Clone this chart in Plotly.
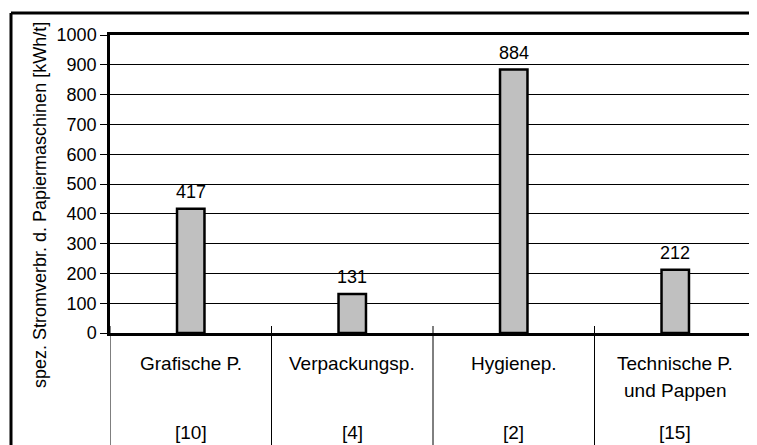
import plotly.graph_objects as go

# data
categories = ["Grafische P.", "Verpackungsp.", "Hygienep.", "Technische P.<br>und Pappen"]
values = [417, 131, 884, 212]
sources = ["[10]", "[4]", "[2]", "[15]"]
y_ticks = list(range(0, 1001, 100))

W, H = 757, 445
OFF = 8  # the page body adds an 8px margin around the figure
FONT = "Liberation Sans, Arial, sans-serif"


def px(pixel_x):
    # screen column -> paper fraction
    return (pixel_x - OFF) / W


def py(pixel_y):
    # screen row (from top) -> paper fraction
    return (H - (pixel_y - OFF)) / H


fig = go.Figure()

fig.add_trace(go.Bar(
    x=categories,
    y=values,
    width=0.17,
    marker=dict(color="#c0c0c0", line=dict(color="black", width=2.5)),
    showlegend=False,
))

# value labels above the bars
for cat, val in zip(categories, values):
    fig.add_annotation(x=cat, y=val, xref="x", yref="y", yanchor="bottom",
                       yshift=5, text=str(val), showarrow=False,
                       font=dict(size=18, color="black", family=FONT))

# category and source labels below the plot area
for cat, src in zip(categories, sources):
    for k, line in enumerate(cat.split("<br>")):
        fig.add_annotation(x=cat, xref="x", y=py(363 + 27 * k), yref="paper",
                           yanchor="middle", text=line, showarrow=False,
                           font=dict(size=19, color="black", family=FONT))
    fig.add_annotation(x=cat, xref="x", y=py(432), yref="paper", yanchor="middle",
                       text=src, showarrow=False,
                       font=dict(size=19, color="black", family=FONT))

# vertical separators between categories
for i in range(len(categories) + 1):
    fig.add_shape(type="line", xref="x", yref="paper",
                  x0=i - 0.5, x1=i - 0.5, y0=0, y1=py(326),
                  line=dict(color="black", width=1))

# outer frame of the chart: only the top and left edges are in view
fig.add_shape(type="line", xref="paper", yref="paper",
              x0=px(11), x1=1, y0=py(13), y1=py(13),
              line=dict(color="black", width=3))
fig.add_shape(type="line", xref="paper", yref="paper",
              x0=px(11), x1=px(11), y0=0, y1=py(13),
              line=dict(color="black", width=3))

fig.add_annotation(x=px(40), xref="paper", xanchor="center",
                   y=py(205), yref="paper", yanchor="middle",
                   text="spez. Stromverbr. d. Papiermaschinen [kWh/t]",
                   textangle=-90, showarrow=False,
                   font=dict(size=18, color="black", family=FONT))

fig.update_layout(
    width=W, height=H,
    margin=dict(l=0, r=0, t=0, b=0, pad=0, autoexpand=False),
    paper_bgcolor="white",
    plot_bgcolor="white",
    font=dict(family=FONT, color="black"),
    xaxis=dict(
        domain=[px(110), px(756)],
        range=[-0.5, 3.5],
        showticklabels=False,
        ticks="",
        showgrid=False,
        showline=True, linecolor="black", linewidth=2.5, mirror=True,
        zeroline=False,
        automargin=False,
    ),
    yaxis=dict(
        domain=[py(333), py(35)],
        range=[0, 1000],
        tickvals=y_ticks,
        ticks="outside", ticklen=7, tickcolor="black", tickwidth=1,
        tickfont=dict(size=18, color="black", family=FONT),
        showgrid=True, gridcolor="black", gridwidth=1,
        showline=True, linecolor="black", linewidth=2.5, mirror=True,
        zeroline=False,
        automargin=False,
    ),
)

fig.write_html("out.html")
